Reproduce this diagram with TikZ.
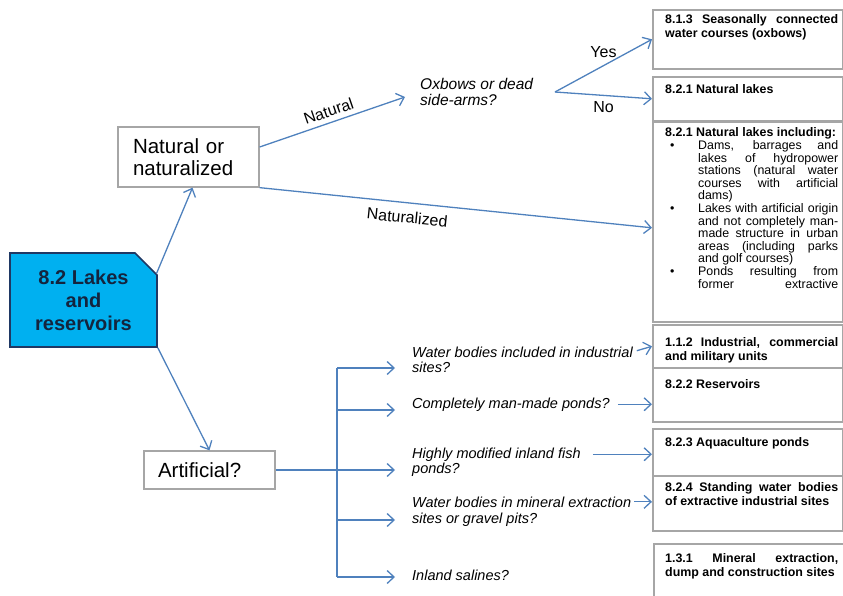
\documentclass[tikz,border=0pt]{standalone}
\usepackage{fontspec}
\setmainfont{Liberation Sans}
\usetikzlibrary{arrows.meta,shapes.misc}
\definecolor{flowblue}{RGB}{79,129,189}
\definecolor{lakecyan}{RGB}{0,176,240}
\definecolor{lakenavy}{RGB}{31,56,100}
\definecolor{lakeink}{RGB}{20,36,62}
\definecolor{boxgray}{RGB}{166,166,166}

\begin{document}
\begin{tikzpicture}[x=1pt, y=-1pt,
    flow/.style={draw=flowblue, line width=1.3pt, -{Straight Barb[length=7pt,width=13pt]}},
    trunk/.style={draw=flowblue, line width=1.3pt},
    decbox/.style={draw=boxgray, line width=1.3pt, fill=white, align=left, inner xsep=15pt, font=\fontsize{20.5}{22}\selectfont},
    catbox/.style={draw=boxgray, line width=1.6pt, anchor=north west, minimum width=190pt, inner sep=0},
    cattext/.style={anchor=base west, inner sep=0, text width=173pt, align=justify, font=\fontsize{12.4}{14}\selectfont\bfseries},
    question/.style={anchor=base west, inner sep=0, font=\fontsize{14.5}{16}\selectfont\itshape},
    edgelabel/.style={font=\fontsize{16}{18}\selectfont, inner sep=2pt}]

    \useasboundingbox (0,0) rectangle (843,596);
    \clip (0,0) rectangle (843,596);

    % 1. Category boxes on the right
    \node[catbox, minimum height=59pt] (b1) at (652,9) {};
    \node[catbox, minimum height=44pt] (b2) at (652,76) {};
    \node[catbox, minimum height=200pt] (b3) at (652,121) {};
    \node[catbox, minimum height=43pt] (b4) at (652,324) {};
    \node[catbox, minimum height=54pt] (b5) at (652,367) {};
    \node[catbox, minimum height=47pt] (b6) at (652,428) {};
    \node[catbox, minimum height=55pt] (b7) at (652,475) {};
    \node[catbox, minimum height=60pt] (b8) at (653,543) {};

    % 2. Texts of the category boxes
    \node[cattext] (c1) at (665,24) {8.1.3 Seasonally connected\linebreak water courses (oxbows)};
    \node[cattext] (c2) at (665,94) {8.2.1 Natural lakes};
    \node[cattext, font=\fontsize{12.4}{12.6}\selectfont] (c3) at (665,137) {\textbf{8.2.1 Natural lakes including:}\par
        \hangindent=33pt\hangafter=1\noindent\makebox[33pt][l]{\hspace{5pt}\textbullet}Dams, barrages and\linebreak lakes of hydropower\linebreak stations (natural water\linebreak courses with artificial\linebreak dams)\par
        \hangindent=33pt\hangafter=1\noindent\makebox[33pt][l]{\hspace{5pt}\textbullet}Lakes with artificial origin\linebreak and not completely man-\linebreak made structure in urban\linebreak areas (including parks\linebreak and golf courses)\par
        \hangindent=33pt\hangafter=1\noindent\makebox[33pt][l]{\hspace{5pt}\textbullet}Ponds resulting from\linebreak former\hfill extractive\par};
    \node[cattext] (c4) at (665,346) {1.1.2 Industrial, commercial\linebreak and military units};
    \node[cattext] (c5) at (665,388) {8.2.2 Reservoirs};
    \node[cattext] (c6) at (665,446) {8.2.3 Aquaculture ponds};
    \node[cattext] (c7) at (665,491) {8.2.4 Standing water bodies\linebreak of extractive industrial sites};
    \node[cattext] (c8) at (665,562) {1.3.1 Mineral extraction,\linebreak dump and construction sites};

    % 3. Start box and the two decision boxes
    \node[chamfered rectangle, chamfered rectangle corners=north east,
          chamfered rectangle xsep=11pt, chamfered rectangle ysep=11pt,
          draw=lakenavy, line width=1.6pt, fill=lakecyan, text=lakeink,
          minimum width=147pt, minimum height=94pt, align=center,
          font=\fontsize{20}{23}\selectfont\bfseries] (main) at (83.5,300) {8.2 Lakes\\and\\reservoirs};
    \node[decbox, text width=111pt, minimum height=60pt] (nat) at (188.5,157) {Natural or\\naturalized};
    \node[decbox, text width=103pt, minimum height=38pt, inner xsep=14pt] (art) at (209.5,470) {Artificial?};

    % 4. Questions
    \node[question, anchor=west, align=left, font=\fontsize{15.5}{16}\selectfont\itshape] (ox) at (420,92) {Oxbows or dead\\side-arms?};
    \node[question] (q1a) at (412,357) {Water bodies included in industrial};
    \node[question] (q1b) at (412,372) {sites?};
    \node[question] (q2) at (412,408) {Completely man-made ponds?};
    \node[question] (q3a) at (412,458) {Highly modified inland fish};
    \node[question] (q3b) at (412,473) {ponds?};
    \node[question] (q4a) at (412,507) {Water bodies in mineral extraction};
    \node[question] (q4b) at (412,523) {sites or gravel pits?};
    \node[question] (q5) at (412,580) {Inland salines?};

    % 5. Natural branch
    \draw[flow] (main.20) -- ([xshift=4pt]nat.south);
    \draw[flow] (main.south east) -- (art.north);
    \draw[flow] ([yshift=10pt]nat.east) -- node[edgelabel, sloped, above=3pt] {Natural} ([xshift=-15pt,yshift=-5pt]ox.west);
    \draw[flow] (nat.south east) -- node[edgelabel, sloped, below=6pt, pos=0.38] {Naturalized} ([yshift=-6pt]b3.west);
    \coordinate (fork) at (555,92);
    \draw[flow] (fork) -- node[edgelabel, above=5pt] {Yes} (b1.west);
    \draw[flow] (fork) -- node[edgelabel, below=3pt] {No} (b2.west);

    % 6. Artificial branch
    \coordinate (t1) at (337,368);
    \coordinate (t2) at (337,410);
    \coordinate (t3) at (337,470);
    \coordinate (t4) at (337,520);
    \coordinate (t5) at (337,577);
    \draw[trunk] (art.east) -- (t3);
    \draw[trunk] (t1) -- (t5);
    \foreach \t/\q in {t1/q1b, t2/q2, t3/q3b, t4/q4b, t5/q5}
        \draw[flow, shorten >=17pt] (\t) -- (\t -| \q.west);

    \draw[flow, shorten <=4pt] (q1a.east) -- (b4.west);
    \draw[flow, shorten <=8pt] (q2.east) -- (q2.east -| b5.west);
    \draw[flow, shorten <=12pt] (q3a.east) -- (q3a.east -| b6.west);
    \draw[flow, shorten <=3pt] (q4a.east) -- (q4a.east -| b7.west);

\end{tikzpicture}
\end{document}
